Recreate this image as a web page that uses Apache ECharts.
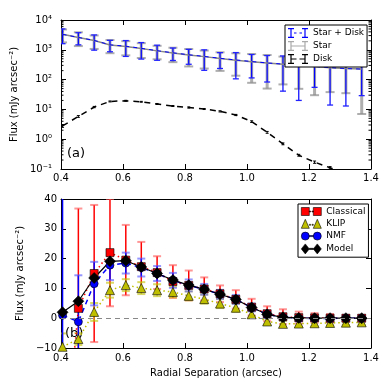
<!DOCTYPE html>
<html>
<head>
<meta charset="utf-8">
<script src="https://cdn.jsdelivr.net/npm/echarts@6/dist/echarts.min.js"></script>
<style>
html,body{margin:0;padding:0;background:#fff;}
#chart{width:390px;height:390px;}
</style>
</head>
<body>
<div id="chart"></div>
<script>
// radial separation (arcsec), same grid for both panels
var xs = [0.405, 0.456, 0.507, 0.558, 0.609, 0.659, 0.710, 0.761, 0.812, 0.862,
          0.913, 0.964, 1.015, 1.065, 1.116, 1.167, 1.218, 1.268, 1.319, 1.370];

// panel (a)
var star     = [3300, 2600, 2050, 1450, 1300, 1100, 920, 780, 670, 590, 510, 450, 400, 360, 330, 305, 275, 252, 235, 225];
var starErr  = [1530, 1265, 980, 680, 650, 570, 440, 395, 394, 355, 314, 315, 322, 310, 261, 256, 245, 214, 200, 218];
var starDisk = [3303, 2606, 2062, 1469, 1320, 1118, 935, 793, 682, 600, 519, 456, 404, 362, 331, 305, 275, 252, 235, 225];
var starDiskErr = [1700, 1140, 1090, 610, 720, 630, 490, 355, 355, 395, 283, 350, 290, 279, 290, 285, 220, 238, 222, 196];
var disk     = [2.8, 5.8, 12, 18.5, 19.5, 18, 15.2, 13, 11.6, 10.3, 8.6, 6.5, 3.9, 1.7, 0.7, 0.29, 0.17, 0.11, 0.07, 0.05];
var diskErr  = [0.3, 0.4, 0.6, 0.7, 0.7, 0.6, 0.6, 0.5, 0.5, 0.4, 0.4, 0.3, 0.25, 0.12, 0.05, 0.02, 0.015, 0.01, 0.008, 0.006];

// panel (b)
var classical    = [-55, 3.3, 15, 22, 19.5, 17.3, 15.3, 12.3, 11, 9.8, 8.2, 6.3, 3.7, 1.5, 0.5, 0.2, 0.1, 0, 0, 0];
var classicalErr = [40, 33.5, 23, 18, 11.8, 8.3, 5.5, 5.5, 5, 3.9, 2.8, 3.1, 2.8, 2.5, 2.5, 2, 1.6, 1.4, 1.0, 1.0];
var klip    = [-9.6, -7, 2.1, 9.4, 11.1, 10.1, 9.4, 8.8, 7.5, 6.4, 4.9, 3.5, 1.3, -1.1, -1.9, -1.8, -1.7, -1.6, -1.5, -1.4];
var klipErr = [4.5, 2, 3, 2.5, 2, 2, 2, 1.8, 1.5, 1.5, 1.5, 1.3, 1.2, 1.0, 1.0, 1.0, 1.0, 0.8, 0.8, 0.8];
var nmf     = [1, -1.2, 11.6, 17.8, 18.5, 17, 15, 12.7, 11, 9.7, 8, 6.3, 3.6, 1.3, 0.3, 0, -0.1, -0.1, 0, 0];
var nmfErr  = [60, 15.6, 7.3, 5, 3.5, 3, 2.5, 2.5, 2, 1.8, 1.5, 1.5, 1.3, 1.2, 1.0, 1.0, 0.8, 0.8, 0.8, 0.8];
var model   = [2, 5.7, 13.5, 19.1, 19.3, 17.2, 15, 12.8, 11.1, 9.7, 8.05, 6.3, 3.6, 1.3, 0.3, 0.1, 0, 0, 0, 0];

var FONT = 'DejaVu Sans';

function pts(ys) {
    return xs.map(function (x, i) { return [x, ys[i]]; });
}
function bars(ys, es) {
    return xs.map(function (x, i) { return [x, ys[i] - es[i], ys[i] + es[i]]; });
}

// error bar drawer: vertical line + two caps
function errRender(color, capColor, width, cap, capWidth) {
    return function (params, api) {
        var x = api.value(0);
        var p1 = api.coord([x, api.value(2)]);
        var p2 = api.coord([x, api.value(1)]);
        return {
            type: 'group',
            children: [
                {type: 'line', shape: {x1: p1[0], y1: p1[1], x2: p2[0], y2: p2[1]}, style: {stroke: color, lineWidth: width}},
                {type: 'line', shape: {x1: p1[0] - cap, y1: p1[1], x2: p1[0] + cap, y2: p1[1]}, style: {stroke: capColor, lineWidth: capWidth}},
                {type: 'line', shape: {x1: p2[0] - cap, y1: p2[1], x2: p2[0] + cap, y2: p2[1]}, style: {stroke: capColor, lineWidth: capWidth}}
            ]
        };
    };
}

function errSeries(name, grid, data, render) {
    return {
        type: 'custom', name: name, xAxisIndex: grid * 2, yAxisIndex: grid * 2,
        clip: true, silent: true, data: data, renderItem: render
    };
}

// minor log ticks (2..9 x 10^n) on both sides of panel (a)
var minorTicks = [];
for (var d = -1; d < 4; d++) {
    for (var m = 2; m <= 9; m++) minorTicks.push([1, m * Math.pow(10, d)]);
}

var SUP = {'-': '\u207b', '0': '\u2070', '1': '\u00b9', '2': '\u00b2', '3': '\u00b3', '4': '\u2074'};
function logLabel(v) {
    var e = String(Math.round(Math.log(v) / Math.LN10));
    return '10' + e.split('').map(function (c) { return SUP[c]; }).join('');
}

function xAx(grid, pos, show, margin) {
    return {
        type: 'value', gridIndex: grid, position: pos, min: 0.4, max: 1.4, interval: 0.2,
        axisLine: {show: true, onZero: false, lineStyle: {color: '#000', width: 1}},
        axisTick: {show: true, inside: true, length: 5, lineStyle: {color: '#000', width: 1}},
        axisLabel: {show: show, color: '#000', fontSize: 10, fontFamily: FONT, margin: margin,
            formatter: function (v) { return v.toFixed(1); }},
        splitLine: {show: false}
    };
}

var yName = 'Flux (mJy arcsec\u207b\u00b2)';

var option = {
    animation: false,
    backgroundColor: '#fff',
    textStyle: {fontFamily: FONT},
    grid: [
        {left: 61, right: 19, top: 20, height: 149, outerBoundsMode: 'none', containLabel: false},
        {left: 61, right: 19, top: 199, height: 149, outerBoundsMode: 'none', containLabel: false}
    ],
    xAxis: [
        xAx(0, 'bottom', true, 4),
        xAx(0, 'top', false, 4),
        Object.assign(xAx(1, 'bottom', true, 5), {
            name: 'Radial Separation (arcsec)', nameLocation: 'middle', nameGap: 20,
            nameTextStyle: {color: '#000', fontSize: 10, fontFamily: FONT}
        }),
        xAx(1, 'top', false, 4)
    ],
    yAxis: [
        {
            type: 'log', logBase: 10, gridIndex: 0, min: 0.1, max: 10000, splitNumber: 5,
            name: yName, nameLocation: 'middle', nameGap: 28, nameRotate: 90,
            nameTextStyle: {color: '#000', fontSize: 10, fontFamily: FONT},
            axisLine: {show: true, lineStyle: {color: '#000'}},
            axisTick: {show: true, inside: true, length: 5, lineStyle: {color: '#000'}},
            axisLabel: {color: '#000', fontSize: 10, fontFamily: FONT, margin: 9, formatter: logLabel},
            splitLine: {show: false}
        },
        {
            type: 'log', logBase: 10, gridIndex: 0, position: 'right', min: 0.1, max: 10000, splitNumber: 5,
            axisLine: {show: true, lineStyle: {color: '#000'}},
            axisTick: {show: true, inside: true, length: 5, lineStyle: {color: '#000'}},
            axisLabel: {show: false}, splitLine: {show: false}
        },
        {
            type: 'value', gridIndex: 1, min: -10, max: 40, interval: 10,
            name: yName, nameLocation: 'middle', nameGap: 28, nameRotate: 90,
            nameTextStyle: {color: '#000', fontSize: 10, fontFamily: FONT},
            axisLine: {show: true, onZero: false, lineStyle: {color: '#000'}},
            axisTick: {show: true, inside: true, length: 5, lineStyle: {color: '#000'}},
            axisLabel: {color: '#000', fontSize: 10, fontFamily: FONT, margin: 4,
                formatter: function (v) { return v < 0 ? '\u2212' + (-v) : String(v); }},
            splitLine: {show: false}
        },
        {
            type: 'value', gridIndex: 1, position: 'right', min: -10, max: 40, interval: 10,
            axisLine: {show: true, onZero: false, lineStyle: {color: '#000'}},
            axisTick: {show: true, inside: true, length: 5, lineStyle: {color: '#000'}},
            axisLabel: {show: false}, splitLine: {show: false}
        }
    ],
    legend: [
        {
            orient: 'vertical', left: 285, top: 25, padding: [3, 3, 3, 3], itemGap: 3,
            itemWidth: 20, itemHeight: 10, borderColor: '#000', borderWidth: 1, backgroundColor: '#fff',
            borderRadius: 0,
            textStyle: {color: '#000', fontSize: 9, fontFamily: FONT},
            data: [
                {name: 'Star + Disk', icon: 'path://M0,0H6V1.3H3.6V8.7H6V10H0V8.7H2.4V1.3H0Z M14,0H20V1.3H17.6V8.7H20V10H14V8.7H16.4V1.3H14Z M6,4.5H8.5V5.5H6Z M11.5,4.5H14V5.5H11.5Z',
                    itemStyle: {color: '#0000ff', borderWidth: 0}},
                {name: 'Star', icon: 'path://M0,0H6V1.3H3.6V8.7H6V10H0V8.7H2.4V1.3H0Z M14,0H20V1.3H17.6V8.7H20V10H14V8.7H16.4V1.3H14Z M3.6,4.4H16.4V5.6H3.6Z',
                    itemStyle: {color: '#aaaaaa', borderWidth: 0}},
                {name: 'Disk', icon: 'path://M0,0H6V1.3H3.6V8.7H6V10H0V8.7H2.4V1.3H0Z M14,0H20V1.3H17.6V8.7H20V10H14V8.7H16.4V1.3H14Z M3.6,4.4H8.5V5.6H3.6Z M11.5,4.4H16.4V5.6H11.5Z',
                    itemStyle: {color: '#000', borderWidth: 0}}
            ]
        },
        {
            orient: 'vertical', left: 298, top: 204, padding: [3, 3, 3, 3], itemGap: 3,
            itemWidth: 20, itemHeight: 10, borderColor: '#000', borderWidth: 1, backgroundColor: '#fff',
            borderRadius: 0,
            textStyle: {color: '#000', fontSize: 9, fontFamily: FONT},
            data: [
                {name: 'Classical', icon: 'path://M0,1H8V9H0Z M12,1H20V9H12Z M8,4.5H9.3V5.5H8Z M10.7,4.5H12V5.5H10.7Z',
                    itemStyle: {color: '#ff0000', borderColor: '#000', borderWidth: 0.6}},
                {name: 'KLIP', icon: 'path://M4,0L8,9H0Z M16,0L20,9H12Z M8,5H9.3V6H8Z M10.7,5H12V6H10.7Z',
                    itemStyle: {color: '#bfbf00', borderColor: '#000', borderWidth: 0.6}},
                {name: 'NMF', icon: 'path://M0,5A4,4 0 1 1 8,5A4,4 0 1 1 0,5Z M12,5A4,4 0 1 1 20,5A4,4 0 1 1 12,5Z M8,4.5H12V5.5H8Z',
                    itemStyle: {color: '#0000ff', borderColor: '#000', borderWidth: 0.6}},
                {name: 'Model', icon: 'path://M4,0L8,5L4,10L0,5Z M16,0L20,5L16,10L12,5Z M8,4.4H12V5.6H8Z',
                    itemStyle: {color: '#000', borderColor: '#000', borderWidth: 0.6}}
            ]
        }
    ],
    graphic: [
        {type: 'text', left: 67, top: 147, style: {text: '(a)', fontSize: 13, fontFamily: FONT, fill: '#000'}},
        {type: 'text', left: 65, top: 327, style: {text: '(b)', fontSize: 13, fontFamily: FONT, fill: '#000'}}
    ],
    series: [
        // panel (a)
        {
            type: 'custom', name: 'minor', xAxisIndex: 0, yAxisIndex: 0, silent: true, data: minorTicks,
            renderItem: function (params, api) {
                var y = api.coord([1, api.value(1)])[1];
                var cs = params.coordSys;
                return {type: 'group', children: [
                    {type: 'line', shape: {x1: cs.x, y1: y, x2: cs.x + 2.5, y2: y}, style: {stroke: '#000', lineWidth: 1}},
                    {type: 'line', shape: {x1: cs.x + cs.width - 2.5, y1: y, x2: cs.x + cs.width, y2: y}, style: {stroke: '#000', lineWidth: 1}}
                ]};
            }
        },
        errSeries('starErr', 0, bars(star, starErr), errRender('rgba(140,140,140,0.7)', 'rgba(140,140,140,0.7)', 3, 4.5, 2)),
        errSeries('starDiskErr', 0, bars(starDisk, starDiskErr), errRender('#0000ff', '#2222ff', 1.2, 3, 1.3)),
        {
            type: 'line', name: 'Star', xAxisIndex: 0, yAxisIndex: 0, data: pts(star),
            symbol: 'none', lineStyle: {color: '#888888', width: 1.5}, itemStyle: {color: '#aaaaaa'}
        },
        {
            type: 'line', name: 'Star + Disk', xAxisIndex: 0, yAxisIndex: 0, data: pts(starDisk),
            symbol: 'none', lineStyle: {color: '#0000ff', width: 1, type: [4, 4]}, itemStyle: {color: '#0000ff'}
        },
        errSeries('diskErr', 0, bars(disk, diskErr), errRender('#000', '#000', 1, 1.5, 1)),
        {
            type: 'line', name: 'Disk', xAxisIndex: 0, yAxisIndex: 0, data: pts(disk),
            symbol: 'none', lineStyle: {color: '#000', width: 1.5, type: [6, 5]}, itemStyle: {color: '#000'}
        },
        // panel (b)
        errSeries('classicalErr', 1, bars(classical, classicalErr), errRender('#ff0000', 'rgba(255,80,80,0.6)', 1.5, 4, 2)),
        {
            type: 'line', name: 'Classical', xAxisIndex: 2, yAxisIndex: 2, data: pts(classical),
            symbol: 'rect', symbolSize: 8, lineStyle: {color: '#ff0000', width: 1.5, type: [1.5, 3]},
            itemStyle: {color: '#ff0000', borderColor: '#000', borderWidth: 0.6}
        },
        errSeries('klipErr', 1, bars(klip, klipErr), errRender('rgba(191,191,0,0.7)', 'rgba(191,191,0,0.6)', 1.5, 4, 2)),
        {
            type: 'line', name: 'KLIP', xAxisIndex: 2, yAxisIndex: 2, data: pts(klip),
            symbol: 'triangle', symbolSize: 9, lineStyle: {color: '#bfbf00', width: 1.5, type: [1.5, 3]},
            itemStyle: {color: '#bfbf00', borderColor: '#000', borderWidth: 0.6},
            markLine: {
                silent: true, symbol: 'none', label: {show: false},
                lineStyle: {color: '#888888', width: 1.2, type: [5, 4]},
                data: [{yAxis: 0}]
            }
        },
        errSeries('nmfErr', 1, bars(nmf, nmfErr), errRender('#0000ff', 'rgba(80,80,255,0.6)', 1.5, 4, 2)),
        {
            type: 'line', name: 'NMF', xAxisIndex: 2, yAxisIndex: 2, data: pts(nmf),
            symbol: 'circle', symbolSize: 8, lineStyle: {color: '#0000ff', width: 1.5, type: [5, 4]},
            itemStyle: {color: '#0000ff', borderColor: '#000', borderWidth: 0.6}
        },
        {
            type: 'line', name: 'Model', xAxisIndex: 2, yAxisIndex: 2, data: pts(model),
            symbol: 'diamond', symbolSize: 11, lineStyle: {color: '#000', width: 1.2},
            itemStyle: {color: '#000', borderColor: '#000', borderWidth: 0.6}
        }
    ]
};

var myChart = echarts.init(document.getElementById('chart'));
myChart.setOption(option);
</script>
</body>
</html>
